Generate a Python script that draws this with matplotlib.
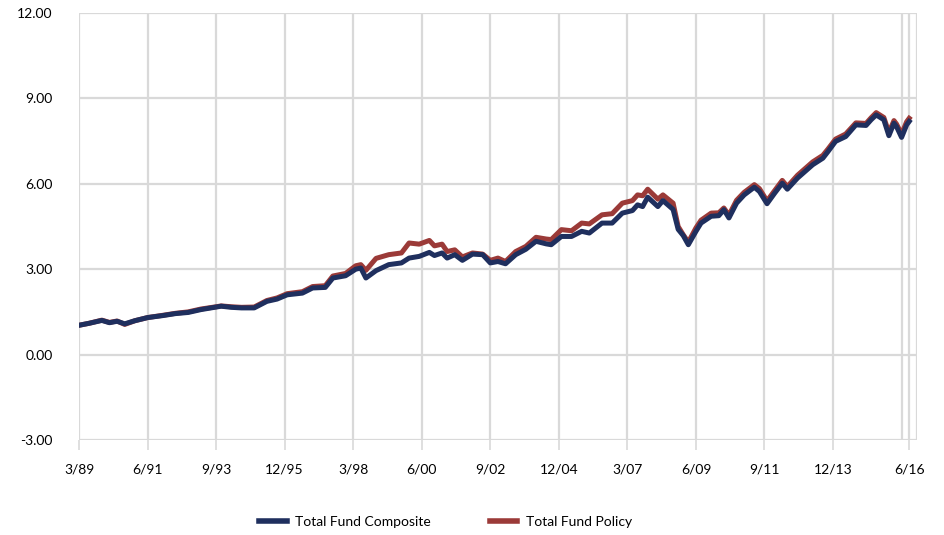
import matplotlib.pyplot as plt
from matplotlib.lines import Line2D

# months since 3/89
composite_months = [0, 4, 9, 12, 15, 18, 22, 27, 33, 38, 43, 48, 54, 56, 60,
                    64, 69, 74, 78, 82, 88, 92, 97, 100, 105, 109, 111, 113, 117,
                    122, 127, 130, 134, 138, 140, 143, 145, 148, 151, 155, 159,
                    162, 165, 168, 172, 176, 180, 184, 186, 190, 194, 198, 201,
                    206, 210, 214, 218, 220, 222, 224, 228, 230, 234, 236, 238,
                    240, 243, 245, 249, 252, 254, 256, 259, 262, 266, 268, 271,
                    274, 277, 279, 283, 289, 293, 295, 298, 302, 306, 310, 312,
                    314, 317, 319, 321, 322, 324, 326, 327]
composite = [1.03, 1.10, 1.20, 1.12, 1.17, 1.08, 1.19, 1.30, 1.37, 1.44, 1.48,
             1.58, 1.67, 1.70, 1.66,
             1.64, 1.64, 1.87, 1.95, 2.10, 2.16, 2.34, 2.36, 2.69, 2.77, 3.00,
             3.04, 2.69, 2.95,
             3.16, 3.22, 3.39, 3.45, 3.59, 3.48, 3.57, 3.39, 3.51, 3.31, 3.53,
             3.51, 3.22, 3.27, 3.19, 3.51, 3.70, 3.98, 3.89, 3.86, 4.15, 4.15,
             4.33, 4.27, 4.62, 4.62, 4.97, 5.06, 5.26, 5.20, 5.53, 5.20, 5.41,
             5.10, 4.40, 4.18, 3.86, 4.33, 4.62, 4.86, 4.88, 5.09, 4.80, 5.32,
             5.61, 5.88, 5.73, 5.30, 5.67, 6.02, 5.81, 6.20, 6.67, 6.90, 7.13,
             7.49, 7.66, 8.07, 8.05, 8.25, 8.42, 8.25, 7.69, 8.13, 8.01, 7.63,
             8.07, 8.19]

policy_months = composite_months
policy = [1.03, 1.10, 1.21, 1.13, 1.18, 1.06, 1.19, 1.30, 1.38, 1.45, 1.50,
          1.60, 1.68, 1.71, 1.68,
          1.66, 1.67, 1.90, 1.99, 2.14, 2.21, 2.39, 2.42, 2.76, 2.85, 3.12,
          3.16, 2.96, 3.38,
          3.51, 3.57, 3.92, 3.88, 4.01, 3.82, 3.88, 3.62, 3.68, 3.43, 3.57,
          3.53, 3.31, 3.39, 3.27, 3.62, 3.80, 4.12, 4.06, 4.04, 4.39, 4.35,
          4.62, 4.59, 4.91, 4.95, 5.32, 5.41, 5.61, 5.58, 5.81, 5.46, 5.61,
          5.32, 4.50, 4.21, 3.95, 4.45, 4.72, 4.97, 4.98, 5.15, 4.90, 5.42,
          5.70, 5.97, 5.83, 5.40, 5.76, 6.12, 5.90, 6.30, 6.77, 7.00, 7.22,
          7.57, 7.75, 8.14, 8.12, 8.32, 8.50, 8.33, 7.80, 8.22, 8.10, 7.75,
          8.18, 8.30]

tick_months = [0, 27, 54, 81, 108, 135, 162, 189, 216, 243, 270, 297, 327]
tick_labels = ["3/89", "6/91", "9/93", "12/95", "3/98", "6/00", "9/02",
               "12/04", "3/07", "6/09", "9/11", "12/13", "6/16"]
extra_grid_months = [324, 330]
y_ticks = [-3, 0, 3, 6, 9, 12]

NAVY = "#1f2f5e"
RED = "#9b3a38"
GRID = "#d9d9d9"
TEXT = "#000000"

plt.rcParams["font.family"] = ["Lato", "DejaVu Sans"]

fig = plt.figure(figsize=(9.44, 5.35), dpi=100)
ax = fig.add_axes([0.0837, 0.1776, 0.8875, 0.7981])

ax.plot(policy_months, policy, color=RED, lw=3.6, zorder=3)
ax.plot(composite_months, composite, color=NAVY, lw=3.6, zorder=4)

ax.set_xlim(0, 330)
ax.set_ylim(-3, 12)

for m in tick_months + extra_grid_months:
    ax.axvline(m, color=GRID, lw=1.6, zorder=1)
for v in y_ticks:
    ax.axhline(v, color=GRID, lw=1.6, zorder=1)

ax.set_xticks(tick_months)
ax.set_xticklabels(tick_labels)
ax.set_yticks(y_ticks)
ax.set_yticklabels([f"{v:.2f}" for v in y_ticks])
ax.tick_params(axis="x", length=7, width=1.2, color=GRID, pad=10,
               labelsize=10, labelcolor=TEXT)
ax.tick_params(axis="y", length=0, pad=19, labelsize=10, labelcolor=TEXT)

for s in ax.spines.values():
    s.set_visible(False)

handles = [Line2D([], [], color=NAVY, lw=4),
           Line2D([], [], color=RED, lw=4)]
fig.legend(handles, ["Total Fund Composite", "Total Fund Policy"],
           loc="center", bbox_to_anchor=(0.472, 0.024), ncol=2, frameon=False,
           fontsize=10, handlelength=2.0, handletextpad=0.6, columnspacing=4.2)

fig.savefig("out.png", dpi=100)
